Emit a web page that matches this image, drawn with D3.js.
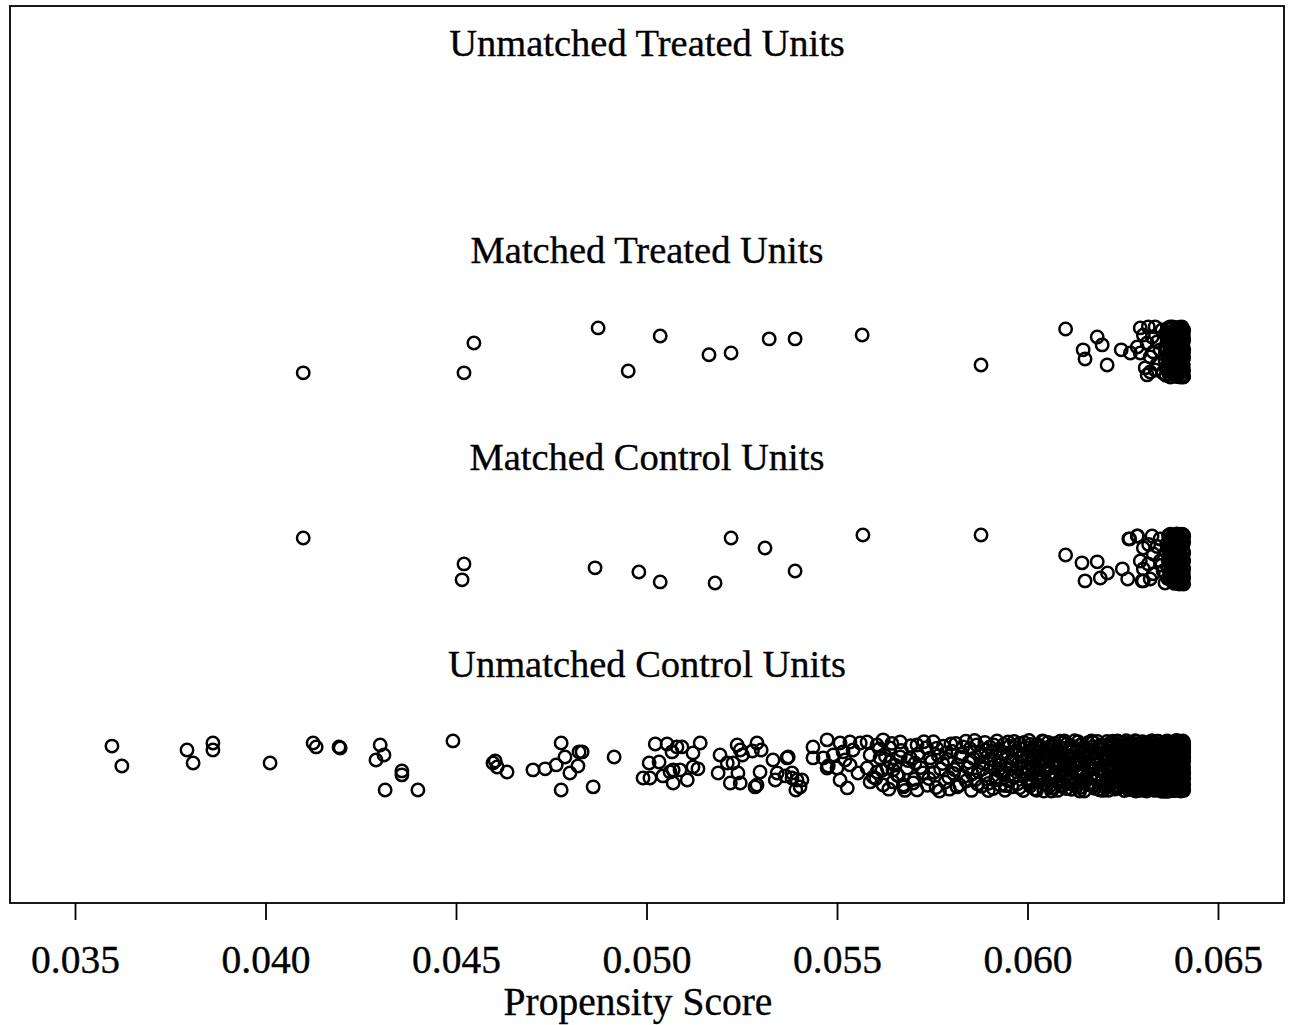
<!DOCTYPE html>
<html>
<head>
<meta charset="utf-8">
<script src="https://cdn.jsdelivr.net/npm/d3@7"></script>
<style>
  body { margin: 0; background: #fff; }
  svg { display: block; }
  text { font-family: "Liberation Serif", "Times New Roman", serif; fill: #000; stroke: #000; stroke-width: 0.35; }
</style>
</head>
<body>
<svg id="chart" width="1290" height="1025"></svg>
<script>
// rows from bottom to top, like the R jitter plot
const groupLabels = ["Unmatched Control Units", "Matched Control Units", "Matched Treated Units", "Unmatched Treated Units"];
const xTicks = [0.035, 0.040, 0.045, 0.050, 0.055, 0.060, 0.065];

// [propensity score, vertical jitter]
const unmatchedTreated = [];

const matchedTreated = [
  [0.04099,-0.101],[0.04547,0.043],[0.04521,-0.101],[0.04873,0.116],[0.05036,0.077],[0.04952,-0.092],
  [0.05164,-0.014],[0.05222,-0.005],[0.05322,0.063],[0.05390,0.063],[0.05566,0.082],[0.05878,-0.063],
  [0.06100,0.111],[0.06146,0.010],[0.06151,-0.034],[0.06183,0.072],[0.06196,0.034],[0.06209,-0.063],
  [0.06246,0.010],[0.06270,-0.005],
  [0.06296,0.116],[0.06317,0.121],[0.06335,0.121],[0.06304,0.082],[0.06327,0.072],[0.06353,0.106],
  [0.06288,0.024],[0.06314,0.043],[0.06340,0.048],[0.06367,0.068],[0.06296,-0.005],[0.06322,-0.024],
  [0.06348,0.010],[0.06309,-0.077],[0.06322,-0.097],[0.06335,-0.087],[0.06361,-0.039],[0.06374,0.121],
  [0.06314,-0.111],[0.06340,-0.060],[0.06330,0.000],[0.06355,-0.100],
  [0.06362,0.021],[0.06364,-0.074],[0.06366,0.093],[0.06368,-0.012],[0.06370,0.057],[0.06372,-0.108],
  [0.06374,0.031],[0.06376,-0.045],[0.06378,0.112],[0.06380,0.004],[0.06382,-0.083],[0.06384,0.071],
  [0.06386,-0.027],[0.06388,0.046],[0.06390,-0.117],[0.06392,0.098],[0.06394,-0.058],[0.06396,0.015],
  [0.06398,0.119],[0.06400,-0.036],[0.06402,0.062],[0.06404,-0.095],[0.06406,0.034],[0.06408,-0.006],
  [0.06409,0.087],[0.06409,-0.121],[0.06409,0.049],[0.06409,-0.062],[0.06410,0.011],[0.06410,0.106],
  [0.06410,-0.089],[0.06410,-0.028],[0.06408,0.074],[0.06407,-0.049],[0.06405,0.121],[0.06403,-0.016],
  [0.06401,0.039],[0.06399,-0.103],[0.06397,0.081],[0.06395,-0.071],[0.06393,0.026],[0.06391,-0.009],
  [0.06389,0.066],[0.06387,-0.113],[0.06385,0.104],[0.06383,-0.041],[0.06381,0.017],[0.06379,-0.066],
  [0.06377,0.084],[0.06375,-0.121],[0.06373,0.052],[0.06371,-0.024],[0.06369,0.115],[0.06367,-0.091],
  [0.06365,0.007],[0.06363,0.079],[0.06406,-0.111],[0.06404,0.095],[0.06402,-0.053],[0.06400,0.055],
  [0.06398,-0.079],[0.06396,0.109],[0.06394,-0.003],[0.06392,-0.119],
  [0.06363,-0.113],[0.06366,0.044],[0.06369,-0.036],[0.06372,0.086],[0.06375,0.006],[0.06378,-0.086],
  [0.06381,0.121],[0.06384,-0.019],[0.06387,0.029],[0.06390,0.081],[0.06393,-0.093],[0.06396,0.059],
  [0.06399,-0.022],[0.06402,0.113],[0.06405,-0.064],[0.06408,0.021],[0.06410,0.061],[0.06410,-0.118],
  [0.06409,-0.004],[0.06407,0.096],[0.06404,-0.041],[0.06401,-0.121],[0.06398,0.036],[0.06395,0.093],
  [0.06392,-0.046],[0.06389,-0.081],[0.06386,0.068],[0.06383,0.102],[0.06380,-0.101],[0.06377,-0.006]
];

const matchedControl = [
  [0.04099,0.101],[0.04521,-0.024],[0.04516,-0.101],[0.04865,-0.043],[0.04980,-0.063],[0.05036,-0.111],
  [0.05180,-0.116],[0.05222,0.101],[0.05311,0.053],[0.05390,-0.058],[0.05568,0.116],[0.05878,0.116],
  [0.06100,0.019],[0.06143,-0.019],[0.06183,-0.014],[0.06151,-0.106],[0.06191,-0.092],[0.06210,-0.068],
  [0.06249,-0.048],[0.06263,-0.097],[0.06268,0.097],[0.06289,0.111],[0.06304,-0.106],
  [0.06266,0.097],[0.06288,0.111],[0.06327,0.111],[0.06348,0.097],[0.06304,0.053],[0.06330,0.024],
  [0.06296,-0.010],[0.06317,-0.024],[0.06348,-0.010],[0.06304,-0.048],[0.06330,-0.072],[0.06356,-0.058],
  [0.06301,-0.106],[0.06322,-0.097],[0.06361,-0.116],[0.06374,0.087],[0.06340,0.060],[0.06318,0.070],
  [0.06364,0.035],[0.06352,-0.030],
  [0.06368,-0.041],[0.06370,0.113],[0.06372,0.009],[0.06374,-0.097],[0.06376,0.061],[0.06378,-0.019],
  [0.06380,0.092],[0.06382,-0.071],[0.06384,0.037],[0.06386,-0.118],[0.06388,0.078],[0.06390,-0.033],
  [0.06392,0.121],[0.06394,-0.086],[0.06396,0.024],[0.06398,-0.052],[0.06400,0.101],[0.06402,-0.004],
  [0.06404,0.068],[0.06406,-0.109],[0.06408,0.043],[0.06409,-0.067],[0.06409,0.117],[0.06409,-0.013],
  [0.06410,0.082],[0.06410,-0.121],[0.06410,0.029],[0.06410,-0.046],[0.06408,-0.094],[0.06407,0.097],
  [0.06405,0.003],[0.06403,-0.077],[0.06401,0.051],[0.06399,-0.121],[0.06397,0.086],[0.06395,-0.022],
  [0.06393,0.057],[0.06391,-0.099],[0.06389,0.012],[0.06387,0.106],[0.06385,-0.061],[0.06383,0.071],
  [0.06381,-0.111],[0.06379,0.031],[0.06377,-0.038],[0.06375,0.119],[0.06373,-0.079],[0.06371,0.047],
  [0.06369,-0.006],[0.06406,0.118],[0.06404,-0.031],[0.06402,0.089],[0.06400,-0.088],[0.06398,0.016],
  [0.06396,0.111],[0.06394,-0.117],[0.06392,-0.058],
  [0.06365,0.072],[0.06368,-0.094],[0.06371,0.018],[0.06374,-0.061],[0.06377,0.101],[0.06380,-0.007],
  [0.06383,-0.088],[0.06386,0.046],[0.06389,-0.044],[0.06392,0.084],[0.06395,-0.108],[0.06398,0.063],
  [0.06401,-0.026],[0.06404,0.119],[0.06407,-0.069],[0.06409,0.031],[0.06410,-0.091],[0.06410,0.108],
  [0.06410,-0.006],[0.06408,0.067],[0.06405,-0.119],[0.06402,0.021],[0.06399,-0.076],[0.06396,0.094],
  [0.06393,0.001],[0.06390,0.056],[0.06387,-0.083],[0.06384,-0.016],[0.06381,0.114],[0.06378,0.041]
];

const unmatchedControl = [
  [0.03597,0.096],[0.03623,0.000],[0.03794,0.077],[0.03810,0.014],[0.03862,0.111],[0.03862,0.077],
  [0.04012,0.014],[0.04125,0.111],[0.04133,0.092],[0.04193,0.092],[0.04196,0.087],[0.04301,0.101],
  [0.04290,0.029],[0.04311,0.053],[0.04358,-0.024],[0.04358,-0.043],[0.04314,-0.116],[0.04400,-0.116],
  [0.04492,0.121],[0.04597,0.014],[0.04603,0.024],[0.04608,-0.005],[0.04634,-0.029],[0.04702,-0.019],
  [0.04734,-0.014],[0.04763,0.005],[0.04776,0.111],[0.04786,0.043],[0.04823,0.068],[0.04831,0.068],
  [0.04799,-0.034],[0.04820,0.000],[0.04776,-0.116],[0.04860,-0.101],[0.04915,0.043],
  [0.05023,0.106],[0.05054,0.106],[0.05080,0.092],[0.05093,0.092],[0.05067,0.068],[0.05141,0.111],
  [0.05122,0.063],[0.05007,0.014],[0.04991,-0.058],[0.05009,-0.058],[0.05070,-0.019],[0.05088,-0.019],
  [0.05070,-0.082],[0.05107,-0.068],[0.05122,-0.005],[0.05135,-0.014],[0.05033,0.019],[0.05062,-0.029],
  [0.05043,-0.048],
  [0.05193,0.053],[0.05212,0.014],[0.05188,-0.034],[0.05220,-0.082],[0.05238,0.101],[0.05227,0.014],
  [0.05240,-0.034],[0.05246,0.077],[0.05290,0.111],[0.05298,-0.029],[0.05285,-0.101],[0.05332,0.029],
  [0.05343,-0.034],[0.05372,0.043],[0.05382,-0.034],[0.05395,-0.068],[0.05403,-0.101],[0.05338,-0.068],
  [0.05252,0.053],[0.05278,0.072],[0.05301,0.077],[0.05246,-0.082],[0.05290,-0.092],[0.05369,0.039],
  [0.05364,-0.048],[0.05382,-0.058],[0.05408,-0.068],[0.05392,-0.116],
  [0.05437,0.092],[0.05474,0.126],[0.05508,0.111],[0.05534,0.116],[0.05561,0.111],[0.05437,0.039],
  [0.05464,0.039],[0.05490,0.053],[0.05516,0.068],[0.05542,0.077],[0.05474,-0.010],[0.05500,-0.010],
  [0.05534,0.005],[0.05508,-0.068],[0.05527,-0.106],[0.05579,0.116],[0.05605,0.101],[0.05621,0.126],
  [0.05639,0.087],[0.05666,0.116],[0.05587,0.053],[0.05613,0.039],[0.05639,0.019],[0.05666,0.043],
  [0.05692,0.039],[0.05579,-0.010],[0.05605,-0.029],[0.05632,-0.010],[0.05658,-0.043],[0.05684,-0.010],
  [0.05587,-0.077],[0.05621,-0.092],[0.05647,-0.077],[0.05674,-0.101],[0.05700,-0.082],[0.05710,0.101],
  [0.05477,0.000],[0.05521,0.029],[0.05555,-0.034],[0.05595,-0.053],[0.05647,-0.019],[0.05674,-0.092],
  [0.05705,0.014],[0.05710,-0.116],[0.05726,-0.034],
  [0.05602,-0.061],[0.05611,0.082],[0.05618,-0.021],[0.05627,0.047],[0.05636,-0.112],[0.05644,0.109],
  [0.05652,0.004],[0.05661,-0.047],[0.05669,0.075],[0.05678,-0.118],[0.05686,0.026],[0.05694,0.098],
  [0.05703,-0.064],[0.05712,0.057],[0.05719,-0.008],[0.05728,0.117],[0.05737,-0.093],[0.05745,0.039],
  [0.05754,-0.031],[0.05762,0.086],[0.05769,-0.121],[0.05777,0.012],[0.05786,0.063],[0.05793,-0.055],
  [0.05799,0.106],[0.05808,-0.017],[0.05815,-0.101],[0.05824,0.044],[0.05831,0.092],[0.05839,-0.073],
  [0.05846,0.018],[0.05855,-0.038],[0.05861,0.123],[0.05869,-0.087],[0.05877,0.051],[0.05883,-0.014],
  [0.05890,0.077],[0.05897,-0.119],[0.05903,0.033],[0.05911,0.101],[0.05918,-0.067],[0.05925,0.005],
  [0.05931,-0.029],[0.05937,0.061],[0.05943,-0.095],[0.05949,0.116],[0.05955,0.021],[0.05961,-0.052],
  [0.05967,0.089],[0.05973,-0.011],
  [0.05735,0.088],[0.05741,-0.061],[0.05748,0.022],[0.05753,0.117],[0.05760,-0.104],[0.05766,0.049],
  [0.05772,-0.015],[0.05779,0.096],[0.05784,-0.078],[0.05790,0.031],[0.05795,-0.112],[0.05801,0.071],
  [0.05806,-0.036],[0.05812,0.109],[0.05817,0.004],[0.05822,-0.092],[0.05828,0.058],[0.05833,-0.051],
  [0.05838,0.119],[0.05844,-0.009],[0.05849,0.083],[0.05853,-0.118],[0.05858,0.036],[0.05863,-0.067],
  [0.05867,0.101],[0.05871,-0.027],[0.05876,0.064],[0.05880,-0.098],[0.05884,0.012],[0.05888,0.114],
  [0.05892,-0.043],[0.05895,0.047],[0.05898,-0.084],[0.05901,0.092],[0.05904,-0.005],
  [0.05907,0.069],[0.05910,-0.109],[0.05913,0.027],[0.05917,-0.056],[0.05920,0.121],[0.05923,-0.021],
  [0.05926,0.081],[0.05929,-0.093],[0.05932,0.041],[0.05935,-0.039],[0.05938,0.104],[0.05941,-0.117],
  [0.05944,0.006],[0.05947,0.062],[0.05950,-0.072],[0.05953,0.095],[0.05956,-0.012],[0.05959,-0.101],
  [0.05962,0.033],[0.05965,0.118],[0.05968,-0.048],[0.05971,0.074],[0.05974,-0.086],[0.05977,0.015],
  [0.05980,0.109],[0.05983,-0.031],[0.05986,0.054],[0.05989,-0.119],[0.05992,-0.003],[0.05995,0.087],
  [0.05998,-0.064],[0.06001,0.038],[0.06004,0.123],[0.06007,-0.097],[0.06010,0.011],[0.06013,-0.042],
  [0.06016,0.078],[0.06019,-0.111],[0.06022,0.049],[0.06025,-0.018],[0.06028,0.101],[0.06031,-0.075],
  [0.06034,0.024],[0.06037,0.091],[0.06040,-0.052],[0.06043,-0.121],[0.06046,0.059],
  [0.05979,-0.105],[0.05985,0.045],[0.05991,0.113],[0.05996,-0.041],[0.06002,0.071],[0.06006,-0.084],
  [0.06011,0.029],[0.06015,-0.001],[0.06020,0.096],[0.06024,-0.117],[0.06029,0.055],[0.06033,-0.062],
  [0.06038,0.014],[0.06042,0.118],[0.06047,-0.027],[0.06052,0.081],[0.06057,-0.099],[0.06062,0.041],
  [0.06067,-0.044],[0.06072,0.109],[0.06077,0.002],[0.06082,-0.081],[0.06087,0.067],[0.06092,-0.016],
  [0.06097,0.121],[0.06102,-0.109],[0.06107,0.048],[0.06112,-0.053],[0.06117,0.091],[0.06122,0.011],
  [0.06127,-0.076],[0.06132,0.036],[0.06137,-0.121],[0.06142,0.104],[0.06147,-0.034],[0.06152,0.019],
  [0.06157,-0.089],[0.06162,0.076],[0.06167,-0.004],[0.06172,0.115],[0.06177,-0.061],[0.06182,0.041],
  [0.06187,-0.113],[0.06192,0.088],[0.06198,-0.026],[0.06205,0.052],[0.06211,-0.079],[0.06217,0.111],
  [0.06223,0.001],[0.06229,-0.097],[0.06235,0.064],[0.06241,-0.045],[0.06247,0.085],[0.06253,-0.008],
  [0.06259,0.122],[0.06265,-0.114],[0.06271,0.037],[0.06277,-0.069],[0.06283,0.096],[0.06289,-0.033],
  [0.06003,-0.022],[0.06008,0.104],[0.06012,-0.068],[0.06017,0.036],[0.06021,-0.112],[0.06026,0.069],
  [0.06030,0.007],[0.06035,-0.047],[0.06039,0.121],[0.06044,-0.086],[0.06048,0.031],[0.06053,-0.009],
  [0.06058,0.093],[0.06063,-0.121],[0.06068,0.058],[0.06073,-0.036],[0.06078,0.082],[0.06083,0.016],
  [0.06088,-0.098],[0.06093,0.111],[0.06098,-0.057],[0.06103,0.023],[0.06108,-0.014],[0.06113,0.099],
  [0.06118,-0.089],[0.06123,0.049],[0.06128,-0.031],[0.06133,0.117],[0.06138,-0.104],[0.06143,0.014],
  [0.06148,0.072],[0.06153,-0.071],[0.06158,0.042],[0.06163,-0.018],[0.06168,0.121],[0.06173,-0.093],
  [0.06178,0.064],[0.06183,-0.041],[0.06188,0.007],[0.06193,0.102],[0.06199,-0.118],[0.06204,0.033],
  [0.06209,-0.055],[0.06214,0.087],[0.06219,-0.004],[0.06224,0.119],[0.06229,-0.072],[0.06234,0.024],
  [0.06239,-0.106],[0.06244,0.059],[0.06249,-0.037],[0.06254,0.096],[0.06259,-0.087],[0.06264,0.017],
  [0.06269,0.108],[0.06274,-0.049],[0.06279,0.069],[0.06284,-0.121],[0.06288,0.046],[0.06292,-0.077],
  [0.06049,0.004],[0.06051,-0.089],[0.06054,0.113],[0.06056,0.037],[0.06059,-0.034],[0.06061,0.079],
  [0.06064,-0.107],[0.06066,0.019],[0.06069,-0.058],[0.06071,0.096],[0.06074,-0.011],[0.06076,0.061],
  [0.06079,-0.118],[0.06081,0.028],[0.06084,-0.071],[0.06086,0.119],[0.06089,-0.025],[0.06091,0.052],
  [0.06094,-0.094],[0.06096,0.008],[0.06099,0.086],[0.06101,-0.046],[0.06104,0.107],[0.06106,-0.079],
  [0.06109,0.031],[0.06111,-0.014],[0.06114,0.069],[0.06116,-0.113],[0.06119,0.044],[0.06121,-0.061],
  [0.06124,0.122],[0.06126,0.001],[0.06129,-0.099],[0.06131,0.083],[0.06134,-0.037],[0.06136,0.016],
  [0.06139,0.101],[0.06141,-0.082],[0.06144,0.056],[0.06146,-0.022],[0.06149,-0.121],[0.06151,0.073],
  [0.06154,-0.052],[0.06156,0.034],[0.06159,0.112],[0.06161,-0.007],[0.06164,-0.091],[0.06166,0.063],
  [0.06169,-0.041],[0.06171,0.093],[0.06174,0.012],[0.06176,-0.108],[0.06179,0.047],[0.06181,-0.066],
  [0.06184,0.118],[0.06186,-0.019],[0.06189,0.078],[0.06191,-0.116],[0.06194,0.026],[0.06197,-0.054],
  [0.06200,0.087],[0.06201,-0.033],[0.06203,0.019],[0.06204,-0.104],[0.06206,0.061],[0.06207,-0.068],
  [0.06209,0.118],[0.06210,-0.002],[0.06212,0.043],[0.06213,-0.117],[0.06215,0.091],[0.06216,-0.047],
  [0.06218,0.007],[0.06219,0.074],[0.06221,-0.085],[0.06222,0.029],[0.06224,-0.021],[0.06225,0.106],
  [0.06227,-0.058],[0.06228,0.053],[0.06230,-0.111],[0.06231,0.014],[0.06233,0.082],[0.06234,-0.039],
  [0.06236,0.121],[0.06237,-0.076],[0.06239,0.036],[0.06240,-0.009],[0.06242,0.097],[0.06243,-0.098],
  [0.06245,0.058],[0.06246,-0.028],[0.06248,0.002],[0.06249,0.113],[0.06251,-0.063],[0.06252,0.047],
  [0.06254,-0.119],[0.06255,0.023],[0.06257,0.079],[0.06258,-0.044],[0.06260,-0.015],[0.06261,0.102],
  [0.06263,-0.089],[0.06264,0.066],[0.06266,0.009],[0.06267,-0.071],[0.06269,0.039],[0.06270,-0.106],
  [0.06202,0.049],[0.06208,-0.091],[0.06214,0.031],[0.06220,-0.012],[0.06226,0.071],[0.06232,-0.052],
  [0.06238,0.095],[0.06244,-0.081],[0.06250,0.018],[0.06256,-0.035],[0.06262,0.085],[0.06268,-0.024],
  [0.06271,0.115],[0.06272,0.026],[0.06273,-0.061],[0.06274,0.072],[0.06275,-0.006],[0.06276,-0.113],
  [0.06277,0.051],[0.06278,0.099],[0.06279,-0.037],[0.06280,0.012],[0.06281,-0.087],[0.06282,0.064],
  [0.06283,0.122],[0.06284,-0.019],[0.06285,0.038],[0.06286,-0.072],[0.06287,0.089],[0.06288,-0.103],
  [0.06289,0.003],[0.06290,0.055],[0.06291,-0.046],[0.06292,0.108],[0.06293,-0.027],[0.06294,0.077],
  [0.06295,-0.118],[0.06296,0.021],[0.06297,-0.056],[0.06298,0.094],[0.06299,-0.011],[0.06300,0.045],
  [0.06301,-0.083],[0.06302,0.117],[0.06303,0.008],[0.06304,-0.066],[0.06305,0.069],[0.06306,-0.031],
  [0.06307,0.103],[0.06308,-0.097],[0.06309,0.033],[0.06310,-0.004],[0.06311,0.084],[0.06312,-0.051],
  [0.06313,-0.121],[0.06314,0.059],[0.06315,0.016],[0.06316,-0.078],[0.06317,0.112],[0.06318,-0.023],
  [0.06319,0.041],[0.06320,-0.109],[0.06321,0.073],[0.06322,-0.042],[0.06323,0.004],[0.06324,0.098],
  [0.06325,-0.064],[0.06326,0.029],[0.06327,-0.091],[0.06328,0.121],[0.06329,-0.016],[0.06330,0.052],
  [0.06331,-0.114],[0.06332,0.086],[0.06333,-0.036],[0.06334,0.011],[0.06335,0.066],[0.06336,-0.074],
  [0.06337,0.106],[0.06338,-0.008],[0.06339,0.037],[0.06340,-0.099],
  [0.06274,-0.094],[0.06278,0.006],[0.06282,-0.049],[0.06286,0.118],[0.06290,-0.029],[0.06294,0.015],
  [0.06298,-0.107],[0.06302,0.061],[0.06306,0.092],[0.06310,-0.058],[0.06314,-0.012],[0.06318,0.081],
  [0.06322,-0.086],[0.06326,0.113],[0.06330,-0.044],[0.06334,-0.118],[0.06338,0.071],[0.06276,0.088],
  [0.06284,-0.063],[0.06292,0.034],[0.06300,-0.069],[0.06308,0.048],[0.06316,-0.102],[0.06324,0.025],
  [0.06332,-0.003],[0.06340,0.094],[0.06280,-0.116],[0.06296,0.109],[0.06312,0.002],[0.06328,-0.054],
  [0.06341,0.078],[0.06342,-0.053],[0.06343,0.119],[0.06344,0.018],[0.06345,-0.087],[0.06346,0.046],
  [0.06347,-0.021],[0.06348,0.101],[0.06349,-0.115],[0.06350,0.063],[0.06351,-0.004],[0.06352,-0.068],
  [0.06353,0.088],[0.06354,0.027],[0.06355,-0.039],[0.06356,0.114],[0.06357,-0.096],[0.06358,0.054],
  [0.06359,-0.013],[0.06360,0.076],[0.06361,-0.122],[0.06362,0.009],[0.06363,0.097],[0.06364,-0.061],
  [0.06365,0.036],[0.06366,-0.032],[0.06367,0.121],[0.06368,-0.079],[0.06369,0.017],[0.06370,0.069],
  [0.06371,-0.107],[0.06372,0.043],[0.06373,-0.047],[0.06374,0.107],[0.06375,-0.001],[0.06376,-0.092],
  [0.06377,0.059],[0.06378,0.084],[0.06379,-0.026],[0.06380,-0.119],[0.06381,0.031],[0.06382,0.116],
  [0.06383,-0.065],[0.06384,0.006],[0.06385,0.093],[0.06386,-0.043],[0.06387,0.048],[0.06388,-0.101],
  [0.06389,0.071],[0.06390,-0.017],[0.06391,0.123],[0.06392,-0.083],[0.06393,0.022],[0.06394,-0.056],
  [0.06395,0.104],[0.06396,-0.007],[0.06397,0.064],[0.06398,-0.111],[0.06399,0.039],[0.06400,-0.036],
  [0.06401,0.089],[0.06402,-0.074],[0.06403,0.013],[0.06404,0.117],[0.06405,-0.048],[0.06406,0.057],
  [0.06407,-0.097],[0.06408,0.028],[0.06409,-0.022],[0.06410,0.082],
  [0.06410,-0.118],[0.06410,0.044],[0.06410,-0.062],[0.06410,0.115],[0.06410,-0.005],[0.06409,0.099],
  [0.06409,-0.088],[0.06409,0.061],[0.06409,-0.041],[0.06409,0.019],[0.06408,-0.109],[0.06408,0.076],
  [0.06407,0.003],[0.06407,0.107],[0.06406,-0.071],[0.06405,0.038],[0.06404,-0.029],[0.06403,0.091],
  [0.06402,-0.121],[0.06401,0.052],
  [0.06344,-0.031],[0.06348,0.066],[0.06352,0.012],[0.06356,-0.076],[0.06360,0.041],[0.06364,0.118],
  [0.06368,0.051],[0.06372,-0.014],[0.06376,0.029],[0.06380,0.079],[0.06384,-0.094],[0.06388,0.109],
  [0.06392,0.058],[0.06396,-0.058],[0.06400,0.008],[0.06346,0.096],[0.06354,-0.113],[0.06362,-0.045],
  [0.06370,-0.082],[0.06378,-0.052],[0.06386,0.017],[0.06394,0.082],[0.06398,0.047],[0.06342,-0.104],
  [0.06350,-0.091],[0.06358,-0.024],[0.06366,0.085],[0.06374,0.069],[0.06382,-0.037],[0.06390,-0.066],
  [0.06397,-0.089],[0.06405,-0.115],[0.06403,0.062],[0.06399,-0.008],[0.06393,0.121],[0.06387,-0.117],
  [0.06381,-0.072],[0.06375,0.097],[0.06369,-0.122],[0.06363,-0.019],
  [0.06293,-0.088],[0.06297,0.051],[0.06301,0.014],[0.06305,-0.116],[0.06309,0.109],[0.06313,-0.039],
  [0.06317,0.067],[0.06321,-0.009],[0.06325,0.121],[0.06329,-0.076],[0.06333,0.043],[0.06337,-0.101],
  [0.06341,0.009],[0.06345,0.097],[0.06349,-0.057],[0.06353,0.034],[0.06357,-0.011],[0.06361,0.111],
  [0.06365,-0.101],[0.06369,0.072],[0.06373,-0.033],[0.06377,0.011],[0.06381,0.095],[0.06385,-0.119],
  [0.06389,0.036],[0.06393,-0.045],[0.06397,0.113],[0.06401,-0.012],[0.06405,0.077],[0.06409,-0.106],
  [0.06410,0.066],[0.06410,-0.034],[0.06410,0.027],[0.06410,-0.091],[0.06410,0.096],[0.06408,0.121],
  [0.06406,-0.021],[0.06404,0.041],[0.06402,0.073],[0.06400,-0.102],[0.06398,0.003],[0.06396,-0.034],
  [0.06394,0.119],[0.06391,-0.072],[0.06388,0.021],[0.06385,-0.014],[0.06383,0.051],[0.06379,-0.099],
  [0.06376,0.101],[0.06372,-0.061],[0.06368,-0.002],[0.06364,0.062],[0.06360,-0.088],[0.06356,0.086],
  [0.06352,-0.122],[0.06348,0.029],[0.06344,-0.067],[0.06340,0.119],[0.06336,0.004],[0.06332,0.101]
];

const groups = [
  { row: 1, points: unmatchedControl },
  { row: 2, points: matchedControl },
  { row: 3, points: matchedTreated },
  { row: 4, points: unmatchedTreated }
];

const svg = d3.select("#chart");
const box = { left: 10, top: 6, right: 1284, bottom: 903 };

const x = d3.scaleLinear().domain([0.035, 0.065]).range([75, 1218]);
const y = d3.scaleLinear().domain([0.338, 4.671]).range([box.bottom, box.top]);

// plot frame
svg.append("rect")
  .attr("x", box.left).attr("y", box.top)
  .attr("width", box.right - box.left).attr("height", box.bottom - box.top)
  .attr("fill", "none").attr("stroke", "#000").attr("stroke-width", 1.8);

// group titles
svg.append("g").selectAll("text").data(groupLabels).enter().append("text")
  .attr("x", (box.left + box.right) / 2)
  .attr("y", (d, i) => y(i + 1 + 0.43))
  .attr("text-anchor", "middle")
  .attr("font-size", 38.5)
  .text((d) => d);

// points
const pts = groups.flatMap((g) => g.points.map((p) => ({ score: p[0], yv: g.row + p[1] })));
svg.append("g").selectAll("circle").data(pts).enter().append("circle")
  .attr("cx", (d) => x(d.score))
  .attr("cy", (d) => y(d.yv))
  .attr("r", 6.2)
  .attr("fill", "none")
  .attr("stroke", "#000")
  .attr("stroke-width", 2.5);

// x axis
const axis = svg.append("g")
  .attr("transform", `translate(0,${box.bottom})`)
  .call(d3.axisBottom(x).tickValues(xTicks).tickSize(17).tickPadding(25).tickFormat(d3.format(".3f")));
axis.select(".domain").remove();
axis.selectAll(".tick line").attr("stroke", "#000").attr("stroke-width", 1.8);
axis.selectAll(".tick text")
  .attr("font-family", "'Liberation Serif', 'Times New Roman', serif")
  .attr("font-size", 39.5).attr("fill", "#000");

svg.append("text")
  .attr("x", 638).attr("y", 1015)
  .attr("text-anchor", "middle")
  .attr("font-size", 39.5)
  .text("Propensity Score");
</script>
</body>
</html>
